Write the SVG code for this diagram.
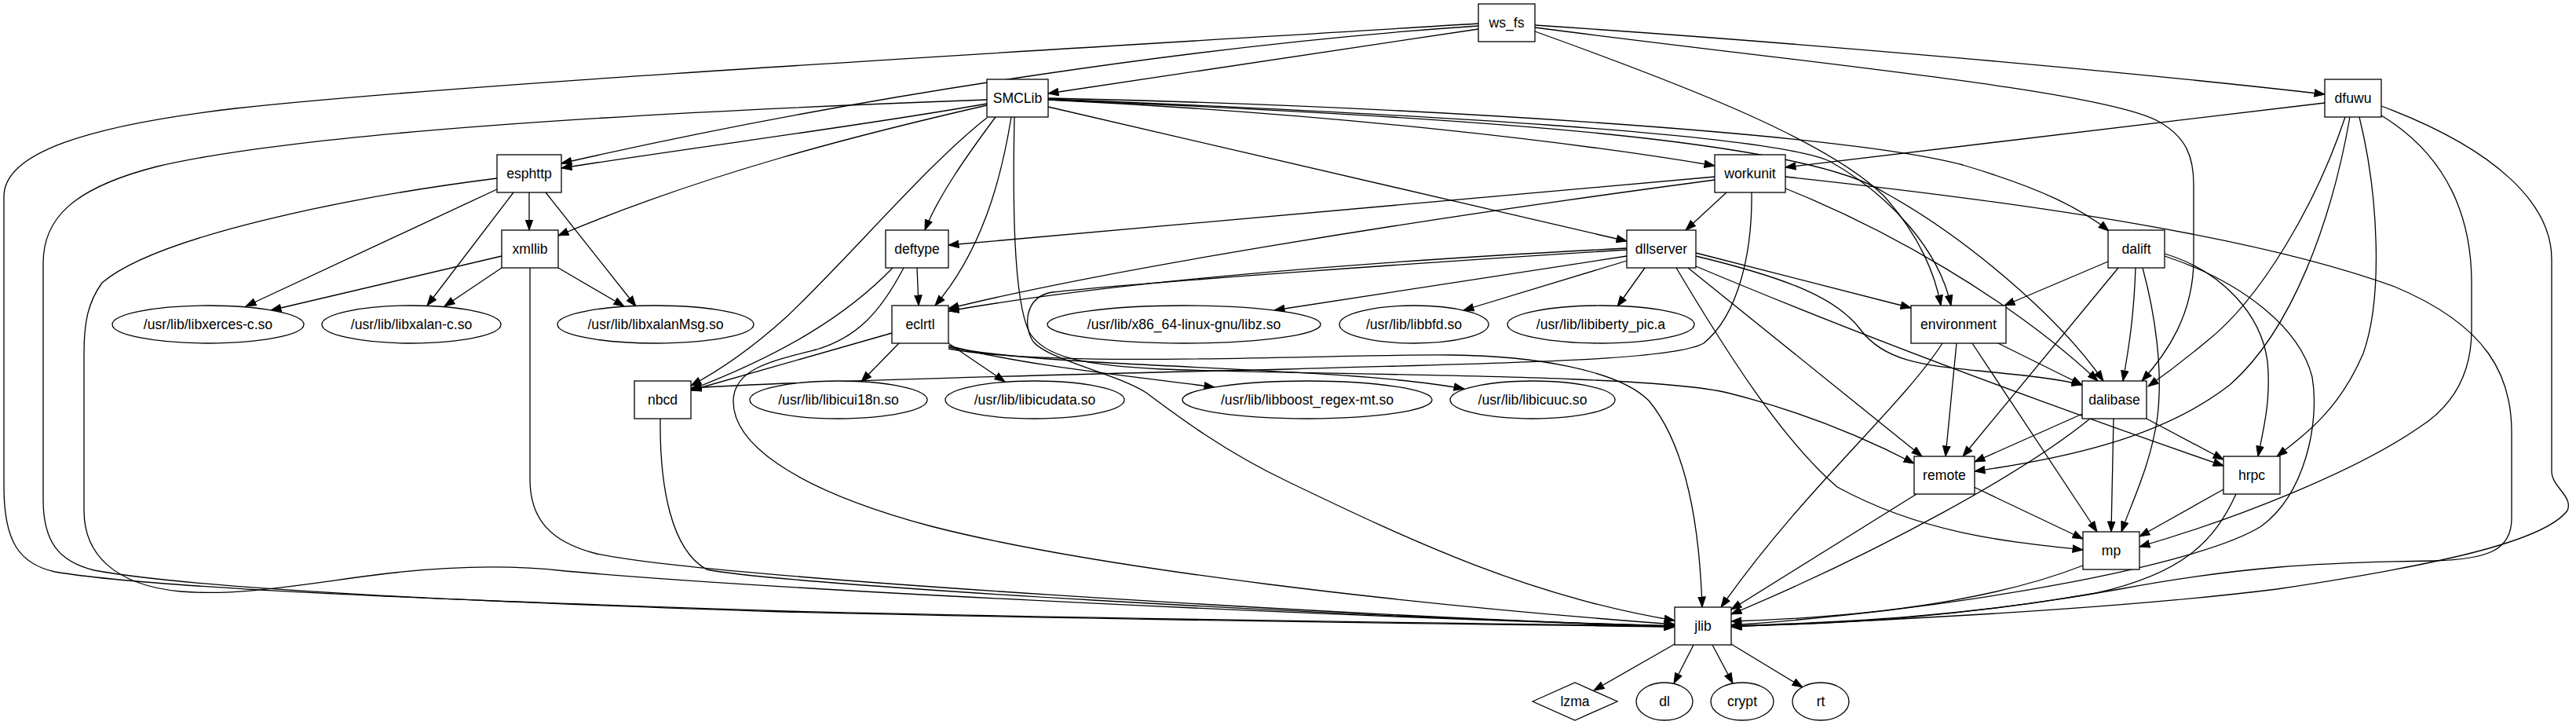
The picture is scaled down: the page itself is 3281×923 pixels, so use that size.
<svg xmlns="http://www.w3.org/2000/svg" width="3281" height="923" viewBox="0 0 3281 923">
<defs>
<marker id="ah" markerUnits="userSpaceOnUse" markerWidth="16" markerHeight="12" refX="13.5" refY="5.5" orient="auto"><path d="M0.5,0.8 L13.5,5.5 L0.5,10.2 z" fill="#000" stroke="#000" stroke-width="1"/></marker>
<style>
.e path{fill:none;stroke:#000;stroke-width:1.3;marker-end:url(#ah)}
.n rect,.n ellipse,.n polygon{fill:#fff;stroke:#000;stroke-width:1.3}
text{font-family:"Liberation Sans",Arial,sans-serif;font-size:17.6px;text-anchor:middle;fill:#000}
</style>
</defs>
<rect width="3281" height="923" fill="#fff"/>
<g id="connectors" class="e">
<path d="M1883,37 L1335,119"/>
<path d="M1883,33 C1550,55 1100,120 715,208"/>
<path d="M1883,30 C1400,60 600,105 300,138 C110,160 5,195 5,250 L5,620 C5,690 25,718 70,728 C200,750 600,765 1000,778 C1500,790 1900,794 2133,797"/>
<path d="M1955,40 C2150,110 2330,180 2400,250 C2445,300 2465,350 2472,389"/>
<path d="M1955,35 C2300,80 2680,115 2750,155 C2785,175 2794,200 2794,235 L2794,330 C2794,400 2760,450 2728,485"/>
<path d="M1955,32 C2300,55 2700,90 2961,120"/>
<path d="M1257,132 C1100,160 900,185 715,214"/>
<path d="M1257,127 C900,140 400,165 200,212 C90,240 55,280 55,335 L55,636 C55,690 75,715 120,726 C250,750 600,766 1000,779 C1500,791 1900,795 2133,798"/>
<path d="M1257,134 C1100,170 900,220 711,300"/>
<path d="M1257,150 C1180,210 1080,330 1000,405 C950,450 910,475 880,491"/>
<path d="M1268,149 C1230,200 1195,250 1178,293"/>
<path d="M1288,149 C1275,230 1250,320 1191,389"/>
<path d="M1292,149 C1290,250 1290,380 1311,423 C1330,455 1380,465 1480,470 C1700,478 2100,476 2200,500 C2300,525 2380,560 2438,590"/>
<path d="M1335,127 C1700,145 2000,180 2184,211"/>
<path d="M1335,136 L2072,307"/>
<path d="M1335,125 C1800,135 2350,170 2500,210 C2600,240 2650,265 2686,294"/>
<path d="M1335,126 C1800,145 2250,170 2330,205 C2410,250 2470,320 2485,389"/>
<path d="M1335,127 C1900,150 2300,180 2400,245 C2500,300 2620,400 2679,485"/>
<path d="M2961,131 L2274,213"/>
<path d="M2987,149 C2950,260 2880,380 2810,435 C2780,460 2760,475 2736,492"/>
<path d="M2993,149 C2970,280 2920,420 2840,490 C2750,560 2620,585 2515,600"/>
<path d="M3005,149 C3030,250 3035,380 3010,450 C2980,520 2940,550 2900,581"/>
<path d="M3033,147 C3120,200 3148,280 3148,360 L3148,420 C3148,480 3120,520 3080,545 C3000,600 2850,660 2725,696"/>
<path d="M3033,135 C3180,190 3250,260 3250,330 L3250,600 C3250,620 3278,632 3270,650 C3240,690 3100,720 2900,750 C2700,775 2400,790 2205,798"/>
<path d="M2184,225 L1208,312"/>
<path d="M2184,229 C1800,280 1400,345 1208,393"/>
<path d="M2199,245 L2147,293"/>
<path d="M2231,245 C2232,320 2215,400 2170,437 C2130,460 1900,462 1640,470 C1300,478 1000,486 880,494"/>
<path d="M2274,225 C2600,260 2880,303 3050,365 C3170,415 3199,480 3199,550 L3199,660 C3199,700 3170,712 3100,714 C2950,716 2850,722 2700,750 C2500,785 2350,795 2205,797"/>
<path d="M2274,240 C2400,290 2560,380 2672,485"/>
<path d="M674,245 L674,293"/>
<path d="M633,241 L313,390"/>
<path d="M654,245 L544,389"/>
<path d="M695,245 L810,390"/>
<path d="M633,227 C450,250 200,300 130,360 C112,385 107,410 107,450 L107,650 C107,705 145,745 230,753 C300,759 380,745 470,733 C560,721 640,718 720,727 C1000,752 1700,785 2133,797"/>
<path d="M639,326 L345,395"/>
<path d="M639,341 L566,390"/>
<path d="M711,341 L795,390"/>
<path d="M675,341 L675,610 C675,660 700,690 760,705 C900,735 1700,783 2133,798"/>
<path d="M1168,341 L1170,389"/>
<path d="M1137,341 C1080,400 1000,450 880,496"/>
<path d="M1151,341 C1120,400 1090,430 1040,445 C980,460 935,470 934,510 C933,560 1000,620 1186,670 C1400,725 1800,770 2133,795"/>
<path d="M1136,424 L880,497"/>
<path d="M1145,437 L1097,486"/>
<path d="M1208,437 L1280,486"/>
<path d="M1208,440 C1300,465 1450,480 1547,493"/>
<path d="M1208,442 C1350,470 1700,465 1865,495"/>
<path d="M1208,444 C1350,470 1700,450 1850,452 C1950,453 2060,470 2100,510 C2150,570 2165,680 2168,773"/>
<path d="M2072,316 C1700,335 1400,362 1208,396"/>
<path d="M2072,318 C1800,335 1450,360 1340,372 C1305,378 1303,415 1316,435 C1335,458 1420,475 1460,500 C1500,530 1560,575 1640,613 C1800,690 1950,760 2133,790"/>
<path d="M2072,326 L1623,395"/>
<path d="M2072,332 L1864,395"/>
<path d="M2095,341 L2060,390"/>
<path d="M2160,322 L2434,392"/>
<path d="M2160,326 C2280,355 2340,380 2370,420 C2400,460 2450,465 2520,472 C2580,478 2620,482 2652,490"/>
<path d="M2150,341 L2448,581"/>
<path d="M2135,341 C2200,450 2270,560 2340,620 C2450,680 2560,690 2653,700"/>
<path d="M2160,339 C2400,440 2650,530 2832,593"/>
<path d="M2685,333 L2553,389"/>
<path d="M2698,341 L2500,581"/>
<path d="M2720,341 C2718,400 2712,440 2704,485"/>
<path d="M2729,341 C2745,400 2755,470 2748,530 C2740,590 2715,640 2702,677"/>
<path d="M2757,323 C2830,345 2880,400 2888,460 C2893,510 2882,550 2876,581"/>
<path d="M2757,326 C2860,360 2930,420 2945,480 C2955,540 2935,630 2880,670 C2800,720 2500,775 2205,796"/>
<path d="M2474,437 C2420,520 2300,620 2192,773"/>
<path d="M2492,437 L2478,581"/>
<path d="M2512,437 L2671,677"/>
<path d="M2545,437 L2652,490"/>
<path d="M2652,527 L2515,588"/>
<path d="M2662,533 C2580,600 2400,700 2205,782"/>
<path d="M2692,533 L2689,677"/>
<path d="M2734,533 L2832,585"/>
<path d="M2441,629 L2205,776"/>
<path d="M2514,620 L2653,686"/>
<path d="M2832,623 L2725,683"/>
<path d="M2848,629 C2820,690 2780,730 2670,755 C2500,785 2350,792 2205,797"/>
<path d="M2653,720 C2550,760 2400,785 2205,791"/>
<path d="M841,533 C840,620 855,700 900,725 C1000,745 1700,785 2133,797"/>
<path d="M2133,820 L2030,879"/>
<path d="M2157,821 L2132,870"/>
<path d="M2181,821 L2207,870"/>
<path d="M2205,820 L2296,875"/>
</g>
<g id="ws_fs" class="n"><rect x="1883" y="5" width="72" height="48"/><text x="1919" y="35">ws_fs</text></g>
<g id="SMCLib" class="n"><rect x="1257" y="101" width="78" height="48"/><text x="1296" y="131">SMCLib</text></g>
<g id="dfuwu" class="n"><rect x="2961" y="101" width="72" height="48"/><text x="2997" y="131">dfuwu</text></g>
<g id="esphttp" class="n"><rect x="633" y="197" width="82" height="48"/><text x="674" y="227">esphttp</text></g>
<g id="workunit" class="n"><rect x="2184" y="197" width="90" height="48"/><text x="2229" y="227">workunit</text></g>
<g id="xmllib" class="n"><rect x="639" y="293" width="72" height="48"/><text x="675" y="323">xmllib</text></g>
<g id="deftype" class="n"><rect x="1128" y="293" width="80" height="48"/><text x="1168" y="323">deftype</text></g>
<g id="dllserver" class="n"><rect x="2072" y="293" width="88" height="48"/><text x="2116" y="323">dllserver</text></g>
<g id="dalift" class="n"><rect x="2685" y="293" width="72" height="48"/><text x="2721" y="323">dalift</text></g>
<g id="libxerces" class="n"><ellipse cx="265" cy="413" rx="122" ry="24"/><text x="265" y="419">/usr/lib/libxerces-c.so</text></g>
<g id="libxalan" class="n"><ellipse cx="524" cy="413" rx="114" ry="24"/><text x="524" y="419">/usr/lib/libxalan-c.so</text></g>
<g id="libxalanMsg" class="n"><ellipse cx="835" cy="413" rx="125" ry="24"/><text x="835" y="419">/usr/lib/libxalanMsg.so</text></g>
<g id="eclrtl" class="n"><rect x="1136" y="389" width="72" height="48"/><text x="1172" y="419">eclrtl</text></g>
<g id="libz" class="n"><ellipse cx="1508" cy="413" rx="174" ry="24"/><text x="1508" y="419">/usr/lib/x86_64-linux-gnu/libz.so</text></g>
<g id="libbfd" class="n"><ellipse cx="1801" cy="413" rx="95" ry="24"/><text x="1801" y="419">/usr/lib/libbfd.so</text></g>
<g id="libiberty" class="n"><ellipse cx="2039" cy="413" rx="119" ry="24"/><text x="2039" y="419">/usr/lib/libiberty_pic.a</text></g>
<g id="environment" class="n"><rect x="2434" y="389" width="121" height="48"/><text x="2494.5" y="419">environment</text></g>
<g id="nbcd" class="n"><rect x="808" y="485" width="72" height="48"/><text x="844" y="515">nbcd</text></g>
<g id="libicui18n" class="n"><ellipse cx="1068" cy="509" rx="113" ry="24"/><text x="1068" y="515">/usr/lib/libicui18n.so</text></g>
<g id="libicudata" class="n"><ellipse cx="1318" cy="509" rx="114" ry="24"/><text x="1318" y="515">/usr/lib/libicudata.so</text></g>
<g id="libboost" class="n"><ellipse cx="1665" cy="509" rx="159" ry="24"/><text x="1665" y="515">/usr/lib/libboost_regex-mt.so</text></g>
<g id="libicuuc" class="n"><ellipse cx="1952" cy="509" rx="105" ry="24"/><text x="1952" y="515">/usr/lib/libicuuc.so</text></g>
<g id="dalibase" class="n"><rect x="2652" y="485" width="82" height="48"/><text x="2693" y="515">dalibase</text></g>
<g id="remote" class="n"><rect x="2438" y="581" width="77" height="48"/><text x="2476.5" y="611">remote</text></g>
<g id="hrpc" class="n"><rect x="2832" y="581" width="72" height="48"/><text x="2868" y="611">hrpc</text></g>
<g id="mp" class="n"><rect x="2653" y="677" width="72" height="48"/><text x="2689" y="707">mp</text></g>
<g id="jlib" class="n"><rect x="2133" y="773" width="72" height="48"/><text x="2169" y="803">jlib</text></g>
<g id="lzma" class="n"><polygon points="1952,893 2006,869 2060,893 2006,917"/><text x="2006" y="899">lzma</text></g>
<g id="dl" class="n"><ellipse cx="2120" cy="893" rx="36" ry="24"/><text x="2120" y="899">dl</text></g>
<g id="crypt" class="n"><ellipse cx="2219" cy="893" rx="40" ry="24"/><text x="2219" y="899">crypt</text></g>
<g id="rt" class="n"><ellipse cx="2319" cy="893" rx="36" ry="24"/><text x="2319" y="899">rt</text></g>
</svg>
